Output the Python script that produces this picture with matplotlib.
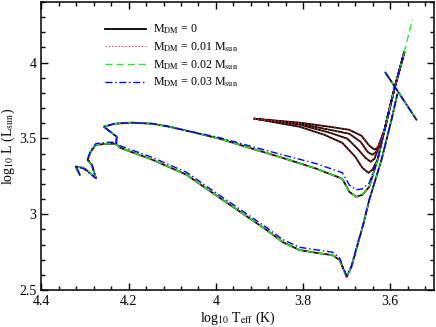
import matplotlib
matplotlib.use('Agg')
import matplotlib.pyplot as plt
from matplotlib.ticker import MultipleLocator, FormatStrFormatter

plt.rcParams['font.family'] = ['Liberation Serif', 'DejaVu Serif']
plt.rcParams['mathtext.fontset'] = 'stix'

# lower track (log Teff, log L)
low_t = [4.312, 4.321, 4.303, 4.275, 4.284, 4.294, 4.287, 4.275, 4.248, 4.229, 4.220,
         4.145, 4.067, 3.991, 3.961, 3.884, 3.847, 3.808, 3.769, 3.733, 3.716, 3.700,
         3.689, 3.675, 3.662, 3.648, 3.620, 3.597, 3.584]
low_l = [3.260, 3.313, 3.306, 3.240, 3.320, 3.359, 3.412, 3.458, 3.465, 3.465, 3.439,
         3.359, 3.260, 3.108, 3.049, 2.897, 2.817, 2.764, 2.745, 2.731, 2.698, 2.586,
         2.652, 2.797, 2.930, 3.095, 3.359, 3.624, 3.789]
low_l_03 = [3.262, 3.318, 3.300, 3.236, 3.330, 3.365, 3.420, 3.466, 3.474, 3.475, 3.452,
            3.374, 3.276, 3.124, 3.065, 2.913, 2.834, 2.782, 2.765, 2.750, 2.712, 2.595,
            2.660, 2.805, 2.935, 3.098, 3.360, 3.624, 3.789]

# upper track
up_t = [4.229, 4.227, 4.257, 4.232, 4.193, 4.145, 4.106, 4.067, 3.991, 3.916, 3.847,
        3.769, 3.710, 3.694, 3.678, 3.664, 3.648, 3.629, 3.613, 3.591, 3.568]
up_l = [3.465, 3.511, 3.577, 3.597, 3.604, 3.597, 3.577, 3.551, 3.498, 3.432, 3.372,
        3.300, 3.234, 3.148, 3.115, 3.128, 3.181, 3.359, 3.557, 3.822, 4.066]
up_l_03 = [3.465, 3.511, 3.577, 3.597, 3.604, 3.597, 3.577, 3.551, 3.505, 3.445, 3.392,
           3.333, 3.274, 3.194, 3.161, 3.167, 3.207, 3.359, 3.557, 3.822, 4.066]
up_tail_t = [3.568, 3.549]   # 0.02 Msun track goes further up
up_tail_l = [4.066, 4.285]

# blue loops (M_DM = 0 and 0.01 only)
loops_t = [
    [3.911, 3.808, 3.739, 3.694, 3.666, 3.648, 3.636, 3.627, 3.613, 3.591, 3.568],
    [3.911, 3.808, 3.739, 3.694, 3.668, 3.652, 3.641, 3.632, 3.613, 3.591, 3.568],
    [3.911, 3.808, 3.739, 3.698, 3.673, 3.657, 3.645, 3.636, 3.613, 3.591, 3.568],
    [3.911, 3.808, 3.751, 3.710, 3.680, 3.664, 3.650, 3.641, 3.629, 3.613, 3.591, 3.568],
]
loops_l = [
    [3.630, 3.604, 3.577, 3.557, 3.518, 3.452, 3.426, 3.445, 3.557, 3.822, 4.066],
    [3.630, 3.597, 3.557, 3.531, 3.478, 3.412, 3.392, 3.412, 3.557, 3.822, 4.066],
    [3.630, 3.591, 3.538, 3.498, 3.426, 3.372, 3.346, 3.366, 3.557, 3.822, 4.066],
    [3.630, 3.577, 3.524, 3.471, 3.379, 3.306, 3.273, 3.293, 3.359, 3.557, 3.822, 4.066],
]

# short segment crossing the giant branch
cross_t = [3.611, 3.579, 3.540]
cross_l = [3.934, 3.795, 3.624]

labels = [r'M$_{\rm DM}$ = 0', r'M$_{\rm DM}$ = 0.01 M$_{\rm sun}$',
          r'M$_{\rm DM}$ = 0.02 M$_{\rm sun}$', r'M$_{\rm DM}$ = 0.03 M$_{\rm sun}$']

fig = plt.figure(figsize=(4.36, 3.27), dpi=100)
ax = fig.add_axes([0.095, 0.113, 0.9, 0.881])

styles = [dict(color='black', ls='-', lw=1.3),
          dict(color='#ff2020', ls=(0, (1, 2)), lw=0.8),
          dict(color='#20ee20', ls=(0, (5, 3)), lw=1.0),
          dict(color='#0000ff', ls=(0, (5, 2, 1, 2)), lw=1.0)]

for i, st in enumerate(styles):
    ll = low_l_03 if i == 3 else low_l
    ul = up_l_03 if i == 3 else up_l
    ax.plot(low_t, ll, label=labels[i], **st)
    ax.plot(up_t, ul, **st)
    if i == 2:
        ax.plot(up_tail_t, up_tail_l, **st)
    if i < 2:
        for lt, lv in zip(loops_t, loops_l):
            ax.plot(lt, lv, **st)
    ax.plot(cross_t, cross_l, **st)

ax.set_xlim(4.4, 3.5)
ax.set_ylim(2.5, 4.4)
ax.xaxis.set_major_locator(MultipleLocator(0.2))
ax.xaxis.set_minor_locator(MultipleLocator(0.04))
ax.yaxis.set_major_locator(MultipleLocator(0.5))
ax.yaxis.set_minor_locator(MultipleLocator(0.1))
ax.xaxis.set_major_formatter(FormatStrFormatter('%g'))
ax.yaxis.set_major_formatter(FormatStrFormatter('%g'))
ax.tick_params(which='both', direction='in', top=True, right=True, labelsize=10, width=1.0)
ax.tick_params(which='major', length=5)
ax.tick_params(which='minor', length=3)
for s in ax.spines.values():
    s.set_linewidth(1.1)

ax.set_xlabel(r'log$_{10}$ T$_{\rm eff}$ (K)', fontsize=10, labelpad=1)
ax.set_ylabel(r'log$_{10}$ L (L$_{\rm sun}$)', fontsize=10, labelpad=2)

ax.legend(loc='upper left', bbox_to_anchor=(0.162, 0.928), frameon=False, fontsize=8.6,
          handlelength=3.4, handletextpad=0.6, labelspacing=0.35, borderpad=0,
          borderaxespad=0)

fig.savefig('out.png', dpi=100)
